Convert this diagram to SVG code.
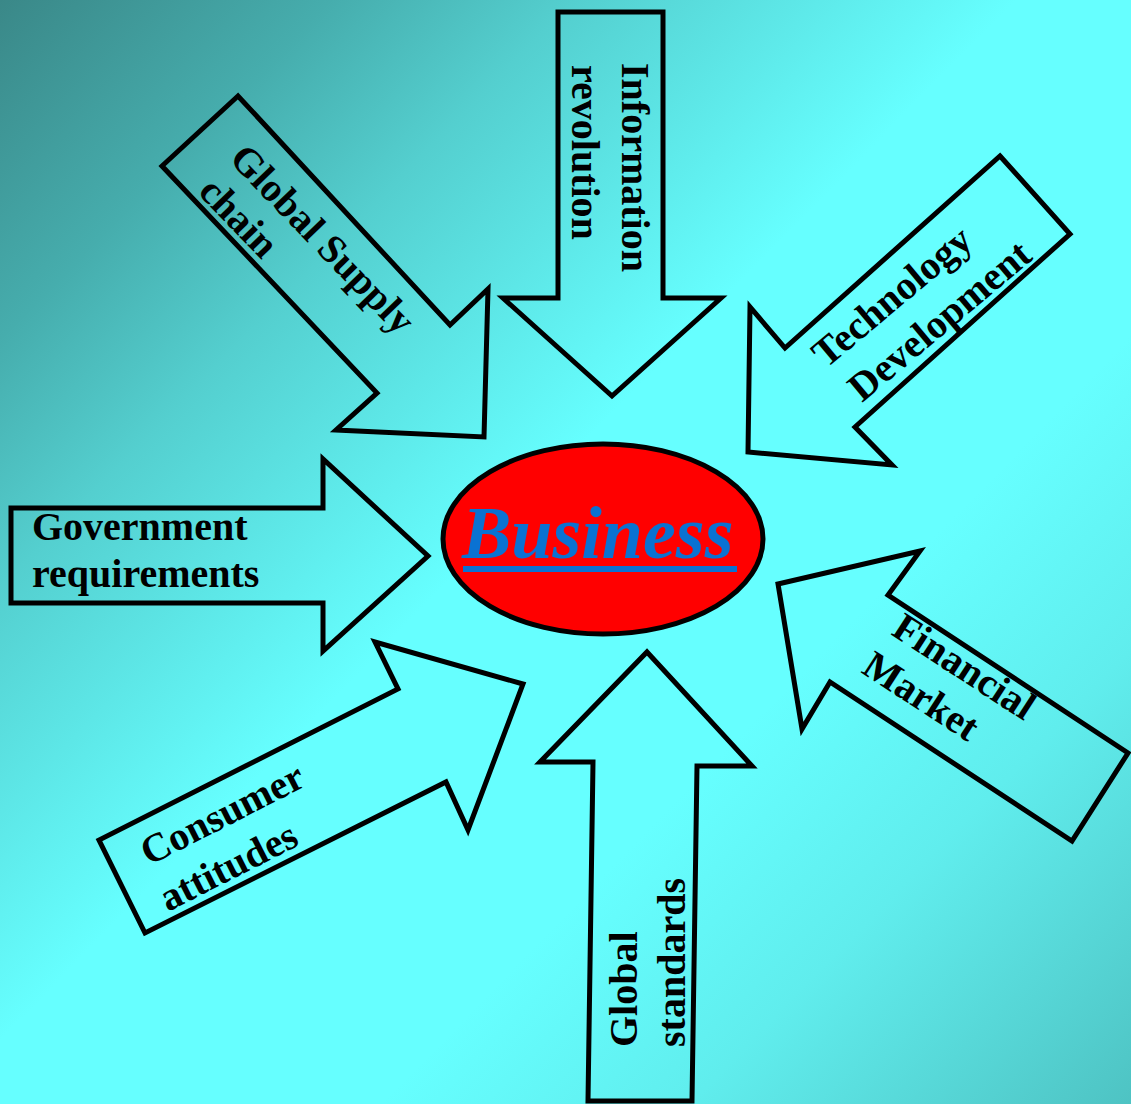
<svg xmlns="http://www.w3.org/2000/svg" width="1131" height="1104" viewBox="0 0 1131 1104">
<defs>
<linearGradient id="bg" gradientUnits="userSpaceOnUse" x1="0" y1="0" x2="1131" y2="1104">
<stop offset="0" stop-color="#3a8888"/>
<stop offset="0.15" stop-color="#46adad"/>
<stop offset="0.26" stop-color="#54cfcf"/>
<stop offset="0.46" stop-color="#66ffff"/>
<stop offset="0.66" stop-color="#66ffff"/>
<stop offset="0.8" stop-color="#60eded"/>
<stop offset="1" stop-color="#4ec3c3"/>
</linearGradient>
<style>
.arrow{fill:none;stroke:#000;stroke-width:5;stroke-linejoin:miter}
.lbl{font-family:"Liberation Serif","Times New Roman",serif;font-weight:bold;font-size:40px;fill:#000}
.biz{font-family:"Liberation Serif","Times New Roman",serif;font-weight:bold;font-style:italic;font-size:74px;fill:#0a72d2}
</style>
</defs>
<rect x="0" y="0" width="1131" height="1104" fill="url(#bg)"/>
<g id="connectors"/>
<g id="information-revolution">
<polygon class="arrow" points="558,12 663,12 663,298 721,298 612,396 503,298 558,298"/>
<text class="lbl" transform="translate(622,63) rotate(90)">Information</text>
<text class="lbl" transform="translate(572,65) rotate(90)">revolution</text>
</g>
<g id="global-supply-chain">
<polygon class="arrow" points="238,96 162,166 377,393 336,430 484,437 488,289 450,325"/>
<text class="lbl" transform="translate(228,160) rotate(46)">Global Supply</text>
<text class="lbl" transform="translate(197,193) rotate(46)">chain</text>
</g>
<g id="technology-development">
<polygon class="arrow" points="1000,156 1070,234 855,427 892,465 748,452 750,307 785,348"/>
<text class="lbl" transform="translate(826,369) rotate(-40)">Technology</text>
<text class="lbl" transform="translate(862,403) rotate(-40)">Development</text>
</g>
<g id="government-requirements">
<polygon class="arrow" points="11,508 323,508 323,459 428,556 323,651 323,603 11,603"/>
<text class="lbl" x="32" y="540">Government</text>
<text class="lbl" x="32" y="587">requirements</text>
</g>
<g id="consumer-attitudes">
<polygon class="arrow" points="145,933 99,840 398,689 375,642 523,684 468,830 446,782"/>
<text class="lbl" transform="translate(149,866) rotate(-27)">Consumer</text>
<text class="lbl" transform="translate(168,912) rotate(-27)">attitudes</text>
</g>
<g id="financial-market">
<polygon class="arrow" points="778,584 920,551 888,595 1128,753 1072,841 830,682 802,729"/>
<text class="lbl" transform="translate(890,634) rotate(33)">Financial</text>
<text class="lbl" transform="translate(860,672) rotate(33)">Market</text>
</g>
<g id="global-standards">
<polygon class="arrow" points="647,652 752,766 697,766 692,1101 588,1101 593,762 540,762"/>
<text class="lbl" transform="translate(637,1047) rotate(-90)">Global</text>
<text class="lbl" transform="translate(685,1047) rotate(-90)">standards</text>
</g>
<g id="business">
<ellipse cx="603" cy="539" rx="160" ry="95" fill="#ff0000" stroke="#000" stroke-width="5"/>
<text class="biz" x="462" y="558">Business</text>
<rect x="463" y="566" width="274" height="6" fill="#0a72d2"/>
</g>
</svg>
